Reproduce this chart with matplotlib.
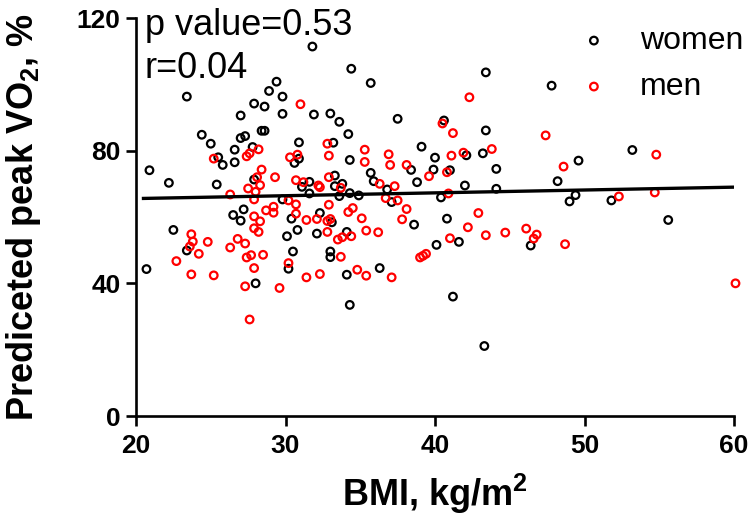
import matplotlib
matplotlib.use("Agg")
import matplotlib.pyplot as plt

# BMI (kg/m2) and predicted peak VO2 (%)
women_bmi = [31.8, 23.4, 29.4, 28.9, 29.8, 27.9, 28.6, 27.0, 29.8, 31.9, 33.0, 28.4, 28.6,
             24.4, 25.0, 27.0, 27.3, 27.8, 26.6, 30.9, 33.2, 25.5, 25.8, 26.6, 30.6, 30.9, 20.9,
             34.4, 35.7, 43.4, 33.6, 34.2, 37.5, 40.6, 43.4, 39.1, 34.3, 40.0, 42.1, 43.2, 44.1,
             38.4, 39.9, 41.0, 35.7, 47.8, 49.6, 53.2,
             22.2, 25.4, 27.9, 31.1, 31.6, 31.6, 33.3, 33.3, 29.8, 26.5, 27.2, 27.0, 30.4, 32.3,
             33.1, 22.5, 30.8, 30.1, 32.1, 23.4, 30.5, 33.0, 33.0, 20.7, 30.2, 28.0,
             33.8, 35.9, 38.8, 42.0, 44.1, 34.3, 34.9, 36.8, 37.1, 40.4, 33.6, 38.6, 40.8, 34.1,
             40.1, 41.6, 46.4, 36.3, 34.1, 34.3, 41.2,
             48.2, 49.0, 49.4, 51.8, 55.6, 43.3]
women_vo2 = [111.4, 96.3, 100.8, 98.0, 96.3, 94.2, 93.3, 90.6, 91.1, 90.9, 91.2, 86.0, 86.0,
             84.8, 82.1, 83.8, 84.4, 81.1, 80.3, 82.5, 82.4, 78.0, 75.7, 76.5, 76.3, 77.6, 74.1,
             104.7, 100.4, 103.6, 88.7, 85.0, 89.6, 89.1, 86.1, 81.2, 77.2, 77.9, 78.6, 79.2, 74.5,
             74.2, 74.3, 74.1, 73.3, 99.6, 77.0, 80.2,
             70.3, 69.8, 71.3, 69.1, 70.6, 67.1, 72.5, 69.3, 65.3, 60.6, 62.3, 58.9, 59.5, 61.2,
             58.4, 56.1, 56.1, 54.2, 55.0, 49.9, 49.6, 49.6, 47.9, 44.3, 44.4, 40.0,
             70.0, 70.8, 70.5, 69.5, 68.5, 67.2, 66.5, 68.3, 64.5, 65.9, 66.3, 57.7, 59.5, 55.5,
             51.6, 52.5, 51.4, 44.6, 42.6, 33.5, 36.0,
             70.8, 64.7, 66.6, 65.0, 59.1, 21.1]

men_bmi = [31.0, 25.2, 27.4, 27.6, 28.2, 30.3, 30.8, 32.8, 32.9, 28.4,
           42.3, 40.5, 41.2, 35.3, 35.3, 36.9, 37.0, 38.1, 41.1, 41.9, 43.8,
           47.4, 48.6, 54.8,
           29.3, 28.1, 28.3, 27.5, 28.0, 26.3, 27.9, 30.7, 31.2, 32.2, 32.3, 32.9, 30.2, 30.7,
           32.9, 28.7, 29.2, 29.2, 30.7, 27.9, 28.3, 31.4, 32.1, 32.8, 33.0, 27.9, 28.2, 32.8,
           23.7, 23.8, 23.6, 24.8, 24.2, 26.8, 27.3, 26.3, 27.7, 27.4, 28.5, 22.7, 30.2, 27.9,
           23.7, 25.2, 31.4, 32.3, 27.3, 29.6, 27.6,
           39.6, 40.8, 36.3, 37.3, 33.7, 40.9, 36.7, 37.5, 38.1, 34.2, 34.5, 35.1, 37.8, 42.9,
           35.4, 36.2, 33.8, 34.4, 33.5, 41.0, 42.2, 43.4, 44.7, 46.1, 46.6, 46.8, 39.0, 39.2,
           39.4, 33.7, 34.8, 35.4, 37.1,
           52.3, 54.7, 48.7, 60.1]
men_vo2 = [94.0, 77.6, 78.3, 79.2, 80.4, 78.0, 78.8, 82.1, 78.5, 74.3,
           96.1, 88.2, 85.3, 80.3, 76.6, 78.9, 75.7, 75.7, 78.5, 79.4, 80.5,
           84.6, 75.2, 78.8,
           72.0, 72.0, 69.6, 68.6, 67.6, 66.8, 65.3, 71.1, 70.5, 69.5, 69.0, 72.0, 65.0, 63.8,
           63.7, 62.0, 63.1, 61.3, 61.0, 60.2, 58.7, 59.1, 59.4, 58.8, 59.4, 56.6, 55.5, 55.5,
           54.8, 52.6, 51.1, 52.5, 48.9, 53.4, 52.0, 50.8, 48.5, 47.8, 48.6, 46.7, 46.1, 44.6,
           42.7, 42.4, 41.8, 42.8, 39.1, 38.6, 29.1,
           72.3, 73.5, 70.0, 69.3, 68.8, 67.1, 65.7, 65.0, 62.4, 61.5, 62.7, 59.6, 59.3, 61.2,
           55.9, 55.4, 53.9, 54.2, 53.2, 53.6, 56.9, 54.5, 55.3, 56.5, 53.5, 54.7, 47.8, 48.3,
           48.9, 48.0, 44.1, 42.3, 41.8,
           66.2, 67.4, 51.8, 40.0]

# regression line end points
fit_bmi = [20.5, 60.0]
fit_vo2 = [65.6, 69.0]

x_ticks = [20, 30, 40, 50, 60]
y_ticks = [0, 40, 80, 120]

plt.rcParams['font.family'] = ['Liberation Sans', 'DejaVu Sans']
plt.rcParams['mathtext.fontset'] = 'custom'
plt.rcParams['mathtext.rm'] = 'Liberation Sans:bold'
plt.rcParams['mathtext.default'] = 'rm'

fig = plt.figure(figsize=(7.5, 5.26), dpi=100)
ax = fig.add_axes([136 / 750, 1 - 416 / 526, 598 / 750, 398 / 526])

ax.scatter(women_bmi, women_vo2, s=30, facecolors='none', edgecolors='black',
           linewidths=1.6, label='women', clip_on=False, zorder=3)
ax.scatter(men_bmi, men_vo2, s=30, facecolors='none', edgecolors='#ff0000',
           linewidths=1.6, label='men', clip_on=False, zorder=3)
ax.plot(fit_bmi, fit_vo2, color='black', linewidth=2.4, zorder=4)

ax.set_xlim(20, 60)
ax.set_ylim(0, 120)
ax.set_xticks(x_ticks)
ax.set_yticks(y_ticks)

for side in ['top', 'right']:
    ax.spines[side].set_visible(False)
for side in ['left', 'bottom']:
    ax.spines[side].set_linewidth(1.9)

ax.tick_params(axis='both', length=7, width=1.9, labelsize=19)
ax.tick_params(axis='x', pad=6)
ax.tick_params(axis='y', pad=4)
for lab in ax.get_xticklabels() + ax.get_yticklabels():
    lab.set_fontweight('bold')

ax.set_xlabel('BMI, kg/m$^2$', fontsize=26, fontweight='bold')
ax.set_ylabel('Prediceted peak VO$_2$, %', fontsize=26, fontweight='bold')
ax.xaxis.set_label_coords(0.5, -0.14)
ax.yaxis.set_label_coords(-0.155, 0.5)

ax.text(0.015, 0.957, 'p value=0.53', transform=ax.transAxes, fontsize=26, va='baseline')
ax.text(0.015, 0.849, 'r=0.04', transform=ax.transAxes, fontsize=26, va='baseline')

ax.legend(loc='upper left', bbox_to_anchor=(0.739, 0.98), frameon=False, fontsize=23,
          scatterpoints=1, borderpad=0, borderaxespad=0, handlelength=1.0,
          handletextpad=0.94, labelspacing=0.5)

fig.savefig('out.png', dpi=100)
